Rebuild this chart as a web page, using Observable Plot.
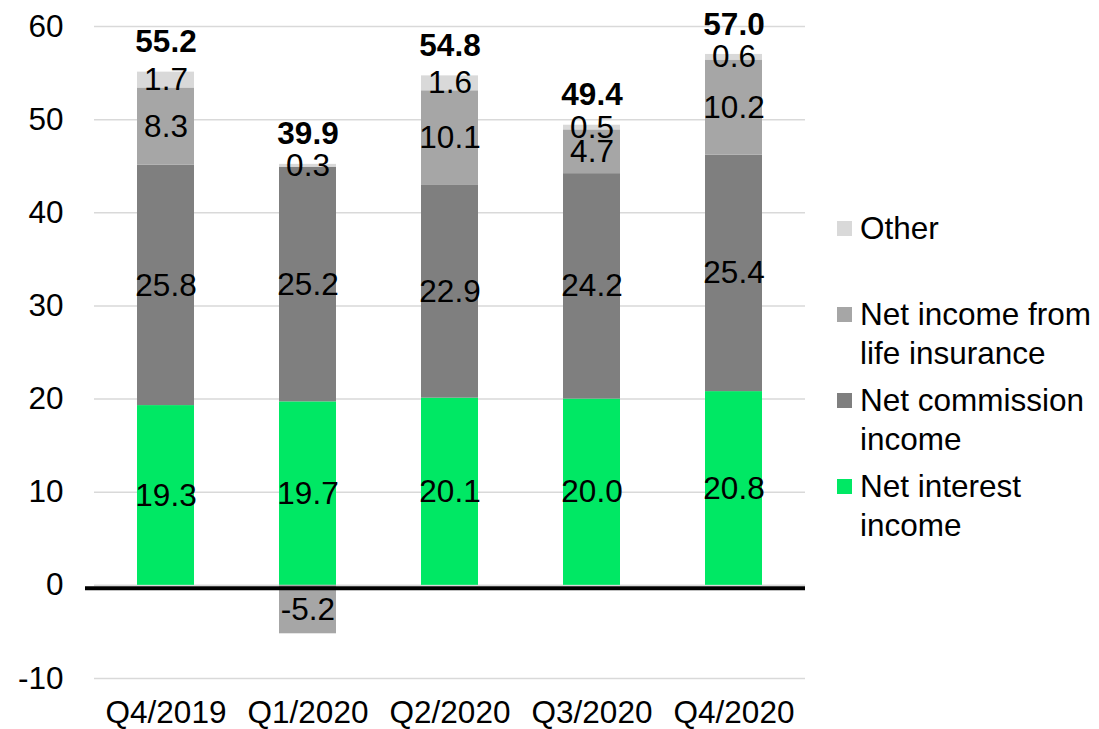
<!DOCTYPE html>
<html>
<head>
<meta charset="utf-8">
<script src="https://cdn.jsdelivr.net/npm/d3@7"></script>
<script src="https://cdn.jsdelivr.net/npm/@observablehq/plot@0.6"></script>
<style>
  html, body { margin: 0; padding: 0; background: #fff; }
  #wrap { position: relative; width: 1099px; height: 729px; font-family: Arial, "Liberation Sans", sans-serif; color: #000; }
  #chart svg { overflow: visible; }
  #legend { position: absolute; left: 837px; top: 209px; }
  .item { position: relative; height: 86px; font-size: 31.5px; line-height: 38.7px; padding-left: 23px; white-space: pre; }
  .sw { position: absolute; left: 0; top: 12px; width: 15px; height: 15px; }
</style>
</head>
<body>
<div id="wrap"><div id="chart"></div><div id="legend"></div></div>
<script>
const categories = ["Q4/2019", "Q1/2020", "Q2/2020", "Q3/2020", "Q4/2020"];
const netInterest = [19.3, 19.7, 20.1, 20.0, 20.8];
const netCommission = [25.8, 25.2, 22.9, 24.2, 25.4];
const lifeInsurance = [8.3, -5.2, 10.1, 4.7, 10.2];
const other = [1.7, 0.3, 1.6, 0.5, 0.6];
const totals = [55.2, 39.9, 54.8, 49.4, 57.0];
const seriesNames = ["Net interest income", "Net commission income", "Net income from life insurance", "Other"];
const seriesColors = ["#00E864", "#7F7F7F", "#A6A6A6", "#D9D9D9"];
const legendLabels = ["Net interest\nincome", "Net commission\nincome", "Net income from\nlife insurance", "Other"];
const yTicks = [-10, 0, 10, 20, 30, 40, 50, 60];

const seriesValues = [netInterest, netCommission, lifeInsurance, other];
const data = [];
categories.forEach((c, i) => {
  seriesNames.forEach((s, j) => data.push({category: c, series: s, value: seriesValues[j][i]}));
});
const totalData = categories.map((c, i) => ({
  category: c,
  total: totals[i],
  top: d3.sum(seriesValues, v => Math.max(0, v[i]))
}));

const font = 'Arial, "Liberation Sans", sans-serif';
const fs = 31.5;
const chart = Plot.plot({
  width: 1099,
  height: 729,
  marginLeft: 94,
  marginRight: 294,
  marginTop: 26,
  marginBottom: 51,
  style: {fontFamily: font, color: "#000", background: "#fff"},
  x: {domain: categories, paddingInner: 0.6, paddingOuter: 0.3, label: null},
  y: {domain: [-10, 60], label: null},
  color: {domain: seriesNames, range: seriesColors},
  marks: [
    Plot.gridY(yTicks, {stroke: "#d9d9d9", strokeOpacity: 1, strokeWidth: 1.5}),
    Plot.barY(data, Plot.stackY({x: "category", y: "value", z: "series", fill: "series", order: seriesNames})),
    Plot.ruleY([0], {stroke: "#000", strokeWidth: 4, dy: 3, insetLeft: -9}),
    Plot.text(data, Plot.stackY({x: "category", y: "value", z: "series", order: seriesNames,
      text: d => d.value.toFixed(1), fontSize: fs, fill: "#000"})),
    Plot.text(totalData, {x: "category", y: "top", text: d => d.total.toFixed(1), dy: -30,
      fontSize: fs, fontWeight: "bold", fill: "#000"}),
    Plot.axisY(yTicks, {tickSize: 0, tickPadding: 31, fontSize: fs, label: null, tickFormat: d => String(d)}),
    Plot.axisX({tickSize: 0, tickPadding: 22, fontSize: fs, label: null})
  ]
});
document.getElementById("chart").appendChild(chart);

const legend = document.getElementById("legend");
[3, 2, 1, 0].forEach(j => {
  const item = document.createElement("div");
  item.className = "item";
  const sw = document.createElement("span");
  sw.className = "sw";
  sw.style.background = seriesColors[j];
  item.appendChild(sw);
  item.appendChild(document.createTextNode(legendLabels[j]));
  legend.appendChild(item);
});
</script>
</body>
</html>
